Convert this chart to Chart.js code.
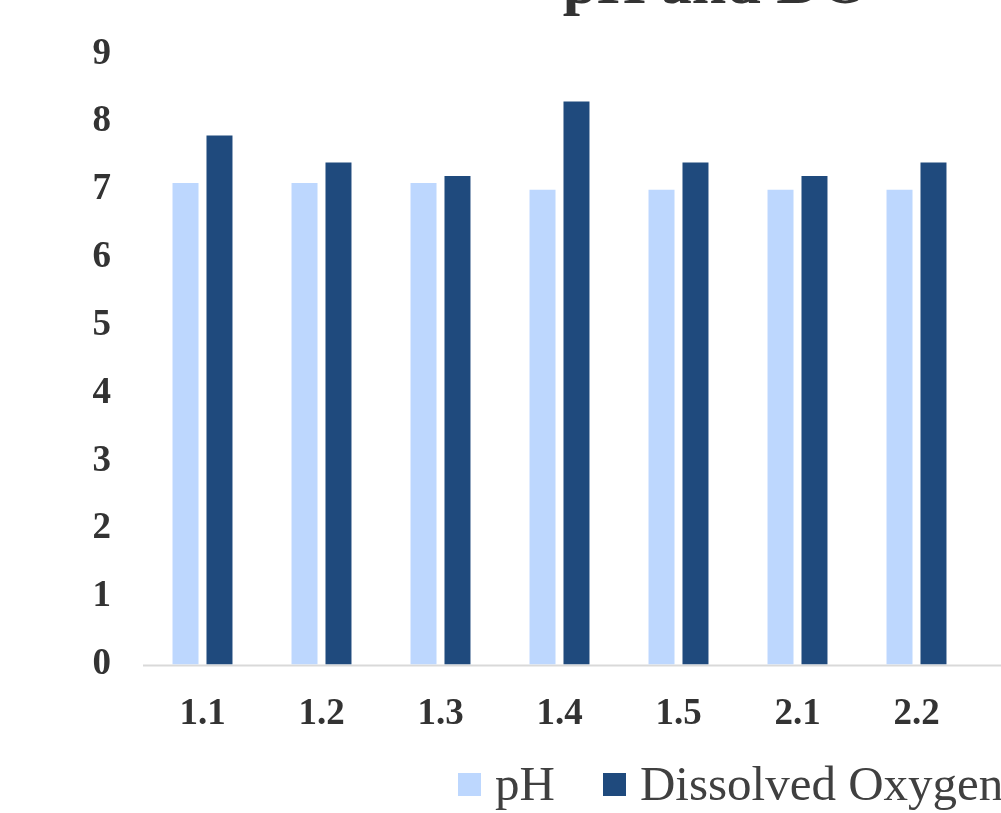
<!DOCTYPE html>
<html>
<head>
<meta charset="utf-8">
<script src="https://cdn.jsdelivr.net/npm/chart.js@4"></script>
<style>
  html, body { margin: 0; padding: 0; background: #fff; }
  #wrap { position: relative; width: 1001px; height: 813px; overflow: hidden; }
  #legend { position: absolute; top: 755px; left: 458px; white-space: nowrap;
            font-family: 'Liberation Serif', serif; font-size: 49px; color: #404040; }
  #legend span.item { display: inline-block; margin-right: 48px; }
  #legend span.box { display: inline-block; width: 23px; height: 23px; margin-right: 14px; vertical-align: 4px; }
</style>
</head>
<body>
<div id="wrap">
  <canvas id="doChart" width="1001" height="813"></canvas>
  <div id="legend"></div>
</div>
<script>
// ====== dados ======
const titulo = 'pH and DO'
const pontos = ['1.1', '1.2', '1.3', '1.4', '1.5', '2.1', '2.2']
const valoresPH = [7.1, 7.1, 7.1, 7.0, 7.0, 7.0, 7.0]
const valoresOD = [7.8, 7.4, 7.2, 8.3, 7.4, 7.2, 7.4]
const nomesSeries = ['pH', 'Dissolved Oxygen']
const coresSeries = ['#BDD7FE', '#1F4A7D']
const ticksY = [0, 1, 2, 3, 4, 5, 6, 7, 8, 9]

const fonte = "'Liberation Serif', 'Times New Roman', serif"

// titulo cortado no topo + linha do eixo ate a borda, igual a imagem original
const extrasPlugin = {
    id: 'extras',
    beforeDatasetsDraw(chart) {
        const ctx = chart.ctx
        const y0 = chart.scales.y.getPixelForValue(0)
        ctx.save()
        ctx.strokeStyle = '#D9D9D9'
        ctx.lineWidth = 2
        ctx.beginPath()
        ctx.moveTo(chart.chartArea.left, y0 + 1)
        ctx.lineTo(chart.width, y0 + 1)
        ctx.stroke()
        ctx.restore()
    },
    afterDraw(chart) {
        const ctx = chart.ctx
        ctx.save()
        ctx.font = 'bold 62px ' + fonte
        ctx.fillStyle = '#333333'
        ctx.textAlign = 'center'
        ctx.textBaseline = 'alphabetic'
        ctx.fillText(titulo, 716, 3)
        ctx.restore()
    }
}

const datasets = [valoresPH, valoresOD].map((vals, i) => ({
    label: nomesSeries[i],
    data: vals,
    backgroundColor: coresSeries[i],
    categoryPercentage: 0.571,
    barPercentage: 0.765
}))

new Chart(document.getElementById('doChart').getContext('2d'), {
    type: 'bar',
    data: { labels: pontos, datasets: datasets },
    options: {
        responsive: false,
        animation: false,
        layout: { padding: { top: 54, right: 25, bottom: 56, left: 0 } },
        plugins: {
            legend: { display: false },
            title: { display: false },
            tooltip: { enabled: false }
        },
        scales: {
            x: {
                grid: { display: false },
                border: { display: false },
                ticks: {
                    color: '#333333',
                    padding: 20,
                    font: { family: fonte, size: 37, weight: 'bold' }
                }
            },
            y: {
                min: ticksY[0],
                max: ticksY[ticksY.length - 1],
                afterBuildTicks(scale) {
                    scale.ticks = ticksY.map(v => ({ value: v }))
                },
                afterFit(scale) { scale.width = 143 },
                grid: { display: false },
                border: { display: false },
                ticks: {
                    color: '#333333',
                    padding: 24,
                    font: { family: fonte, size: 37, weight: 'bold' }
                }
            }
        }
    },
    plugins: [extrasPlugin]
})

// legenda em html
const legenda = document.getElementById('legend')
nomesSeries.forEach((nome, i) => {
    const item = document.createElement('span')
    item.className = 'item'
    const box = document.createElement('span')
    box.className = 'box'
    box.style.background = coresSeries[i]
    item.appendChild(box)
    item.appendChild(document.createTextNode(nome))
    legenda.appendChild(item)
})
</script>
</body>
</html>
